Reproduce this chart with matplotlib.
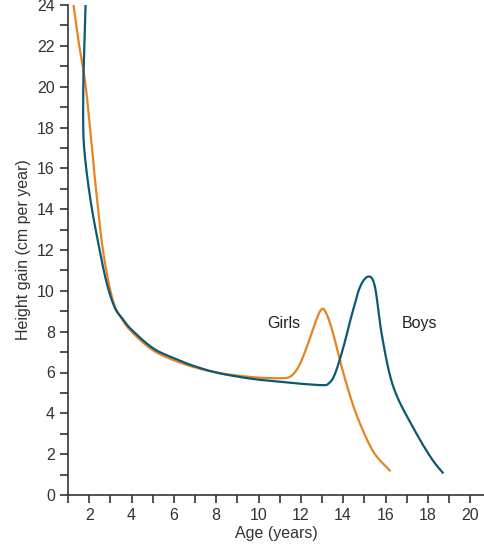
import matplotlib
matplotlib.use("Agg")
import matplotlib.pyplot as plt
import numpy as np

plt.rcParams['font.family'] = ['Liberation Sans', 'DejaVu Sans']

girls_x = [1.26, 1.5, 1.8, 2.05, 2.28, 2.65, 3.1, 3.5, 4, 5, 6, 7, 8, 9, 10, 11, 11.5, 11.9, 12.3, 12.7, 12.98, 13.2, 13.5, 14, 14.5, 15, 15.5, 16.2]
girls_y = [24, 22.2, 20.3, 17.9, 15.4, 12, 9.6, 8.7, 8.0, 7.1, 6.6, 6.25, 6.0, 5.85, 5.75, 5.72, 5.8, 6.3, 7.3, 8.5, 9.1, 8.9, 8.0, 6.0, 4.3, 3.0, 2.0, 1.2]
boys_x = [1.83, 1.77, 1.72, 1.73, 1.86, 2.1, 2.4, 2.8, 3.2, 3.6, 4, 5, 6, 7, 8, 9, 10, 11, 12, 13, 13.3, 13.6, 14, 14.4, 14.8, 15.2, 15.5, 15.8, 16.2, 16.6, 17.2, 17.8, 18.3, 18.7]
boys_y = [24, 22, 19.8, 17.6, 16, 14.2, 12.5, 10.5, 9.2, 8.6, 8.1, 7.2, 6.7, 6.3, 6.0, 5.8, 5.65, 5.55, 5.45, 5.38, 5.45, 5.9, 7.2, 8.8, 10.2, 10.7, 10.2, 8.0, 5.9, 4.7, 3.5, 2.4, 1.6, 1.1]

def smooth(x, y, n=20):
    p = np.column_stack([x, y]).astype(float)
    p = np.vstack([2*p[0]-p[1], p, 2*p[-1]-p[-2]])
    out = []
    t = np.linspace(0, 1, n, endpoint=False)[:, None]
    for i in range(1, len(p)-2):
        p0, p1, p2, p3 = p[i-1], p[i], p[i+1], p[i+2]
        seg = 0.5*((2*p1) + (-p0+p2)*t + (2*p0-5*p1+4*p2-p3)*t**2 + (-p0+3*p1-3*p2+p3)*t**3)
        out.append(seg)
    out.append(p[-2][None, :])
    o = np.vstack(out)
    return o[:, 0], o[:, 1]

fig = plt.figure(figsize=(4.85, 5.60), dpi=100)
ax = fig.add_axes([68/485, 65/560, 1 - 68/485, (495-5)/560])
ax.plot(*smooth(girls_x, girls_y), color="#e8841f", lw=1.6)
ax.plot(*smooth(boys_x, boys_y), color="#0b5a73", lw=1.6)
ax.set_xlim(1, 20.7)
ax.set_ylim(0, 24)
ax.set_xticks(range(2, 21, 2))
ax.set_xticks(range(1, 21), minor=True)
ax.set_yticks(range(0, 25, 2))
ax.set_yticks(range(0, 25), minor=True)
ax.tick_params(which="both", direction="out", length=6, width=1.2, labelsize=11.5, colors="#333333")
for s in ["top", "right"]:
    ax.spines[s].set_visible(False)
for s in ["left", "bottom"]:
    ax.spines[s].set_linewidth(1.2)
    ax.spines[s].set_color("#333333")
ax.set_xlabel("Age (years)", fontsize=11.5, color="#333333", labelpad=2)
ax.set_ylabel("Height gain (cm per year)", fontsize=11.5, color="#333333", labelpad=4)
ax.text(11.2, 8.4, "Girls", fontsize=11.5, ha="center", va="center", color="#222222")
ax.text(17.6, 8.4, "Boys", fontsize=11.5, ha="center", va="center", color="#222222")
fig.savefig("out.png", dpi=100)
